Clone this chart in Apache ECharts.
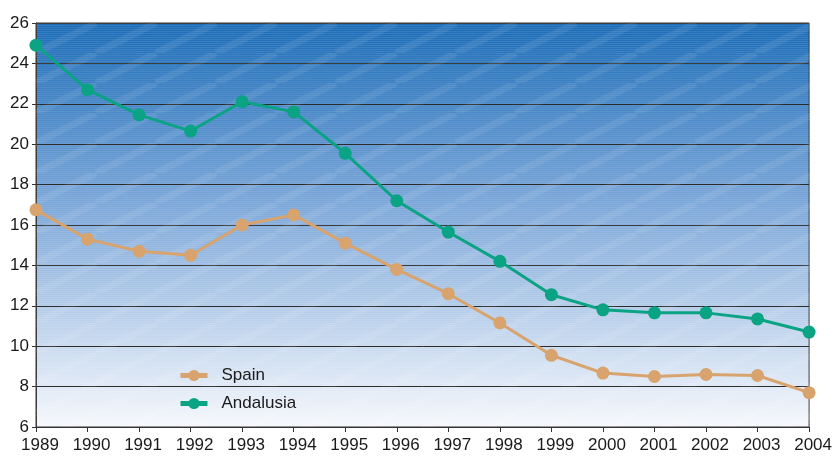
<!DOCTYPE html>
<html>
<head>
<meta charset="utf-8">
<script src="https://cdn.jsdelivr.net/npm/echarts@6/dist/echarts.min.js"></script>
<style>
  html, body { margin: 0; padding: 0; background: #fff; }
  #chart { width: 835px; height: 459px; }
</style>
</head>
<body>
<div id="chart"></div>
<script>
const years = ['1989', '1990', '1991', '1992', '1993', '1994', '1995', '1996',
  '1997', '1998', '1999', '2000', '2001', '2002', '2003', '2004']
const spain = [16.75, 15.3, 14.7, 14.5, 16.0, 16.5, 15.1, 13.8, 12.6, 11.15, 9.55, 8.67, 8.5, 8.6, 8.55, 7.7]
const andalusia = [24.9, 22.7, 21.45, 20.65, 22.1, 21.6, 19.55, 17.2, 15.65, 14.2, 12.55, 11.8, 11.65, 11.65, 11.35, 10.7]

// shallow diagonal light bands + fine horizontal texture over the blue background
function stripeCanvas() {
  const c = document.createElement('canvas')
  c.width = 60
  c.height = 30
  const ctx = c.getContext('2d')
  ctx.strokeStyle = 'rgba(255,255,255,0.08)'
  ctx.lineWidth = 7
  for (let i = -60; i <= 120; i += 60) {
    ctx.beginPath()
    ctx.moveTo(i, 30)
    ctx.lineTo(i + 60, 0)
    ctx.stroke()
  }
  ctx.fillStyle = 'rgba(255,255,255,0.09)'
  for (let y = 0; y < 30; y += 2) {
    ctx.fillRect(0, y, 60, 1)
  }
  return c
}

const chart = echarts.init(document.getElementById('chart'))
const gridLeft = 36, gridRight = 25, gridTop = 23, gridBottom = 32

const option = {
  animation: false,
  textStyle: { fontFamily: 'Liberation Sans, Arial, sans-serif' },
  grid: {
    left: gridLeft,
    right: gridRight,
    top: gridTop,
    bottom: gridBottom,
    show: true,
    borderColor: '#333',
    borderWidth: 1,
    backgroundColor: new echarts.graphic.LinearGradient(0, 0, 0, 1, [
      { offset: 0, color: '#1b6cb7' },
      { offset: 0.45, color: '#7ca7d9' },
      { offset: 1, color: '#f6f8fc' }
    ])
  },
  graphic: [{
    type: 'rect',
    left: gridLeft,
    top: gridTop,
    z: 1,
    silent: true,
    shape: { width: 835 - gridLeft - gridRight, height: 459 - gridTop - gridBottom },
    style: { fill: { image: stripeCanvas(), repeat: 'repeat' } }
  }],
  legend: {
    orient: 'vertical',
    left: 173,
    top: 362,
    itemGap: 11,
    itemWidth: 27,
    itemHeight: 14,
    lineStyle: { width: 5 },
    textStyle: { fontSize: 17, color: '#1a1a1a', padding: [0, 0, 0, 9] },
    data: ['Spain', 'Andalusia']
  },
  xAxis: {
    type: 'category',
    boundaryGap: false,
    data: years,
    axisLine: { lineStyle: { color: '#333' } },
    axisTick: { show: true, length: 5, lineStyle: { color: '#333' } },
    axisLabel: { fontSize: 17, color: '#1a1a1a', margin: 10, padding: [0, 0, 0, 8] }
  },
  yAxis: {
    type: 'value',
    min: 6,
    max: 26,
    interval: 2,
    axisLine: { show: true, lineStyle: { color: '#333' } },
    axisTick: { show: true, length: 4, lineStyle: { color: '#333' } },
    axisLabel: { fontSize: 17, color: '#1a1a1a', margin: 7 },
    splitLine: { lineStyle: { color: '#2a2a2a', width: 1 } }
  },
  series: [
    {
      name: 'Spain',
      type: 'line',
      data: spain,
      symbol: 'circle',
      symbolSize: 13,
      z: 3,
      itemStyle: { color: '#d8a36c' },
      lineStyle: { color: '#d8a36c', width: 3 }
    },
    {
      name: 'Andalusia',
      type: 'line',
      data: andalusia,
      symbol: 'circle',
      symbolSize: 13,
      z: 3,
      itemStyle: { color: '#0aa383' },
      lineStyle: { color: '#0aa383', width: 3 }
    }
  ]
}
chart.setOption(option)
</script>
</body>
</html>
